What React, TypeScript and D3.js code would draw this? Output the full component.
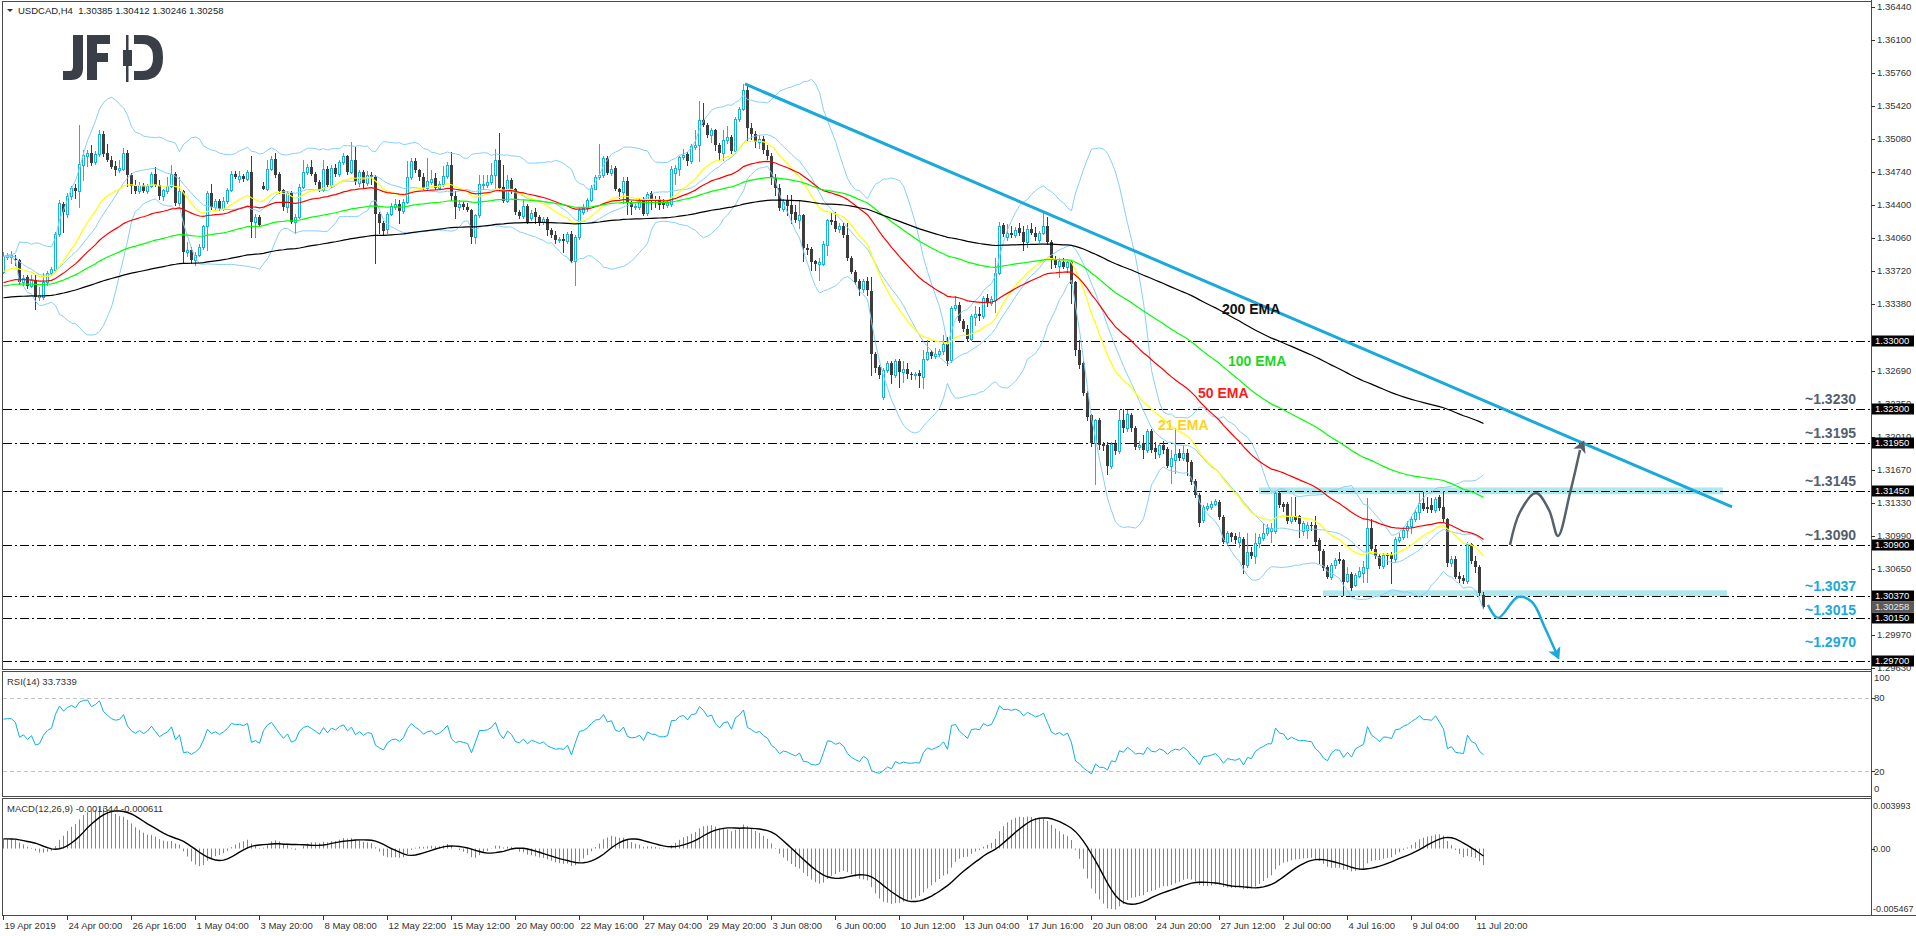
import React from "react";
import * as d3 from "d3";

// Prices in units of 0.0001 (13371 = 1.3371), one entry per H4 bar
const OPEN = [
13371,13386,13386,13384,13383,13361,13366,13357,13363,13345,
13345,13361,13370,13373,13410,13441,13431,13449,13458,13454,
13481,13491,13494,13484,13493,13513,13494,13486,13480,13476,
13477,13494,13471,13461,13454,13461,13454,13460,13472,13461,
13449,13454,13460,13472,13442,13454,13392,13394,13383,13389,
13397,13418,13452,13438,13444,13436,13444,13455,13472,13467,
13470,13467,13474,13423,13428,13460,13456,13477,13487,13472,
13455,13438,13452,13422,13428,13459,13474,13479,13472,13464,
13455,13477,13461,13478,13472,13484,13490,13474,13486,13463,
13474,13463,13471,13469,13431,13421,13415,13431,13438,13441,
13434,13443,13469,13485,13476,13469,13458,13464,13468,13458,
13462,13470,13481,13449,13438,13441,13438,13435,13407,13430,
13461,13461,13464,13471,13486,13459,13444,13466,13456,13433,
13429,13439,13427,13433,13428,13422,13426,13414,13409,13404,
13405,13403,13410,13382,13407,13433,13437,13445,13457,13469,
13471,13488,13473,13478,13456,13453,13465,13442,13438,13438,
13446,13432,13452,13446,13446,13443,13440,13441,13473,13477,
13489,13493,13485,13500,13502,13528,13522,13512,13517,13502,
13494,13507,13510,13496,13529,13539,13559,13519,13513,13505,
13508,13497,13490,13468,13458,13436,13445,13440,13433,13425,
13430,13396,13395,13382,13379,13379,13399,13425,13424,13415,
13418,13409,13385,13371,13362,13353,13362,13351,13287,13273,
13242,13270,13277,13265,13279,13268,13271,13266,13265,13267,
13263,13281,13289,13284,13286,13290,13297,13280,13334,13337,
13321,13312,13302,13325,13328,13326,13344,13339,13342,13370,
13419,13407,13411,13409,13416,13412,13402,13415,13411,13404,
13411,13418,13402,13383,13377,13381,13376,13381,13361,13291,
13277,13246,13224,13195,13219,13194,13193,13171,13194,13187,
13218,13210,13224,13210,13191,13195,13188,13207,13190,13183,
13193,13189,13171,13177,13184,13179,13185,13175,13156,13141,
13115,13128,13129,13132,13134,13119,13093,13102,13099,13093,
13096,13069,13083,13078,13092,13097,13102,13104,13104,13143,
13132,13132,13114,13120,13120,13104,13105,13110,13110,13095,
13084,13067,13057,13069,13075,13074,13053,13060,13049,13058,
13061,13066,13107,13086,13078,13068,13079,13079,13075,13095,
13098,13105,13109,13116,13124,13133,13129,13131,13126,13139,
13129,13117,13071,13075,13058,13056,13053,13091,13073,13067,
13038.5];

const HIGH = [
13392,13391,13393,13388,13384,13368,13368,13368,13368,13356,
13370,13372,13376,13412,13445,13443,13452,13460,13462,13522,
13497,13497,13502,13496,13517,13516,13503,13490,13485,13486,
13499,13497,13473,13466,13464,13463,13462,13474,13479,13466,
13457,13469,13481,13474,13469,13455,13402,13397,13392,13400,
13419,13454,13462,13446,13446,13448,13458,13475,13475,13475,
13472,13476,13490,13431,13430,13464,13486,13490,13494,13474,
13457,13454,13454,13431,13462,13486,13482,13486,13474,13466,
13486,13480,13481,13482,13486,13494,13492,13505,13500,13476,
13476,13475,13474,13471,13433,13424,13433,13442,13446,13445,
13446,13485,13488,13488,13477,13473,13488,13476,13473,13465,
13480,13484,13495,13454,13445,13443,13442,13436,13431,13471,
13471,13471,13483,13498,13514,13481,13471,13468,13458,13435,
13446,13441,13435,13437,13430,13428,13428,13416,13413,13407,
13410,13412,13413,13409,13438,13441,13447,13461,13471,13503,
13490,13490,13481,13480,13458,13469,13469,13444,13441,13446,
13448,13453,13454,13449,13449,13446,13445,13480,13481,13491,
13498,13495,13503,13517,13547,13545,13524,13519,13518,13504,
13517,13521,13512,13531,13541,13565,13565,13525,13516,13512,
13511,13502,13494,13472,13462,13446,13450,13450,13440,13445,
13431,13400,13397,13383,13385,13403,13426,13432,13433,13421,
13421,13421,13387,13373,13364,13364,13366,13366,13289,13275,
13272,13279,13279,13281,13281,13279,13277,13268,13268,13270,
13291,13301,13291,13293,13292,13306,13304,13336,13346,13340,
13323,13316,13328,13336,13335,13346,13348,13346,13385,13423,
13421,13420,13418,13417,13421,13418,13419,13421,13417,13413,
13433,13428,13404,13387,13385,13385,13383,13382,13362,13301,
13279,13248,13225,13220,13221,13196,13196,13196,13198,13229,
13230,13229,13226,13212,13197,13203,13209,13209,13196,13195,
13197,13191,13188,13210,13189,13193,13189,13177,13158,13143,
13131,13133,13135,13137,13136,13121,13104,13103,13102,13103,
13098,13102,13088,13102,13101,13112,13111,13112,13145,13145,
13134,13134,13139,13139,13121,13114,13113,13113,13120,13097,
13086,13069,13071,13076,13082,13075,13067,13062,13061,13067,
13073,13138,13117,13089,13080,13081,13081,13083,13098,13102,
13108,13114,13120,13127,13143,13144,13139,13138,13139,13141,
13145,13118,13078,13078,13062,13059,13093,13092,13078,13069,
13041.2];

const LOW = [
13370,13384,13380,13378,13359,13358,13355,13356,13333,13342,
13343,13358,13368,13372,13408,13412,13428,13446,13447,13438,
13466,13480,13481,13482,13491,13491,13485,13478,13471,13474,
13476,13460,13452,13452,13452,13453,13452,13459,13460,13446,
13445,13452,13459,13440,13440,13381,13387,13380,13378,13387,
13395,13394,13436,13435,13435,13435,13442,13454,13468,13464,
13465,13466,13407,13407,13418,13456,13455,13476,13469,13452,
13435,13433,13421,13411,13427,13458,13472,13471,13462,13454,
13454,13459,13459,13470,13470,13482,13472,13473,13462,13460,
13458,13461,13462,13380,13411,13409,13411,13430,13436,13421,
13432,13442,13467,13474,13466,13457,13457,13462,13457,13457,
13460,13468,13445,13427,13435,13436,13434,13401,13401,13428,
13457,13459,13462,13457,13457,13443,13443,13452,13431,13427,
13427,13421,13425,13421,13419,13420,13409,13407,13401,13402,
13392,13401,13381,13358,13405,13431,13434,13444,13456,13467,
13469,13472,13471,13455,13447,13442,13431,13431,13436,13436,
13430,13430,13436,13438,13436,13437,13438,13439,13462,13471,
13487,13481,13483,13498,13485,13521,13510,13505,13497,13486,
13486,13504,13494,13494,13527,13538,13507,13508,13500,13499,
13494,13487,13462,13450,13435,13434,13430,13421,13422,13416,
13382,13390,13373,13373,13363,13378,13388,13420,13413,13412,
13407,13383,13370,13359,13347,13350,13347,13265,13268,13262,
13240,13268,13257,13263,13253,13258,13262,13261,13261,13253,
13251,13280,13282,13282,13284,13287,13275,13278,13332,13319,
13310,13300,13301,13316,13322,13324,13336,13337,13330,13369,
13408,13404,13407,13407,13409,13394,13397,13410,13404,13402,
13410,13400,13375,13376,13366,13375,13371,13339,13285,13272,
13244,13219,13192,13153,13189,13188,13163,13169,13183,13185,
13206,13207,13207,13189,13189,13179,13186,13186,13179,13180,
13185,13170,13154,13164,13177,13177,13162,13153,13139,13109,
13113,13126,13127,13131,13117,13092,13091,13094,13092,13088,
13061,13067,13076,13071,13088,13095,13100,13093,13102,13129,
13125,13112,13112,13114,13098,13100,13097,13105,13091,13071,
13064,13056,13055,13066,13071,13038,13052,13043,13047,13057,
13052,13052,13085,13076,13066,13066,13070,13051,13072,13093,
13096,13098,13102,13114,13117,13126,13124,13124,13124,13126,
13114,13068,13068,13056,13052,13051,13051,13071,13062,13038,
13024.6];

const CLOSE = [
13387,13388,13388,13383,13361,13365,13357,13363,13345,13347,
13361,13370,13374,13410,13442,13433,13449,13458,13454,13482,
13492,13494,13483,13493,13513,13493,13486,13479,13476,13478,
13494,13471,13460,13454,13461,13454,13460,13472,13461,13449,
13455,13460,13472,13442,13454,13392,13394,13383,13389,13397,
13418,13452,13438,13444,13436,13444,13455,13472,13469,13470,
13467,13474,13423,13428,13419,13456,13477,13487,13471,13454,
13438,13452,13422,13428,13459,13474,13479,13472,13464,13455,
13477,13461,13478,13472,13484,13490,13474,13486,13464,13474,
13463,13471,13469,13431,13421,13413,13431,13439,13441,13434,
13443,13469,13485,13476,13469,13458,13465,13467,13458,13462,
13470,13481,13449,13438,13441,13438,13435,13407,13430,13462,
13462,13464,13471,13486,13458,13444,13466,13456,13433,13429,
13439,13423,13432,13428,13422,13426,13414,13409,13404,13405,
13403,13410,13382,13407,13435,13437,13445,13458,13469,13471,
13488,13473,13477,13456,13453,13465,13442,13438,13439,13444,
13431,13451,13446,13445,13440,13440,13442,13477,13478,13489,
13492,13485,13501,13502,13528,13522,13512,13517,13502,13494,
13507,13510,13496,13529,13539,13559,13519,13513,13505,13508,
13497,13490,13468,13458,13437,13443,13439,13431,13425,13430,
13396,13394,13381,13379,13381,13400,13425,13423,13415,13418,
13409,13385,13371,13361,13353,13362,13352,13287,13272,13265,
13270,13277,13265,13279,13268,13271,13266,13265,13266,13264,
13281,13289,13284,13287,13290,13297,13279,13334,13337,13321,
13312,13302,13326,13328,13326,13344,13339,13343,13370,13418,
13410,13411,13409,13414,13411,13402,13415,13411,13407,13411,
13418,13402,13383,13378,13382,13376,13381,13359,13291,13275,
13246,13222,13195,13219,13193,13192,13171,13194,13187,13218,
13210,13225,13210,13191,13193,13188,13207,13188,13186,13193,
13188,13171,13179,13183,13179,13185,13175,13155,13141,13112,
13129,13130,13132,13135,13119,13093,13102,13098,13095,13098,
13069,13083,13078,13092,13098,13102,13107,13107,13143,13131,
13129,13114,13120,13115,13111,13112,13110,13109,13093,13084,
13066,13057,13069,13074,13073,13052,13060,13045,13059,13063,
13067,13107,13086,13078,13068,13079,13078,13075,13096,13098,
13105,13109,13117,13124,13133,13127,13127,13126,13137,13128,
13117,13071,13075,13057,13055,13053,13091,13073,13067,13040,
13025.8];

const UNIT = 10000;

const TIME_LABELS = [
  "19 Apr 2019", "24 Apr 00:00", "26 Apr 16:00", "1 May 04:00", "3 May 20:00", "8 May 08:00",
  "12 May 22:00", "15 May 12:00", "20 May 00:00", "22 May 16:00", "27 May 04:00", "29 May 20:00",
  "3 Jun 08:00", "6 Jun 00:00", "10 Jun 12:00", "13 Jun 04:00", "17 Jun 16:00", "20 Jun 08:00",
  "24 Jun 20:00", "27 Jun 12:00", "2 Jul 00:00", "4 Jul 16:00", "9 Jul 04:00", "11 Jul 20:00",
];
const BARS_PER_LABEL = 16;

const PRICE_TICKS = [
  "1.36440", "1.36100", "1.35760", "1.35420", "1.35080", "1.34740", "1.34400", "1.34060",
  "1.33720", "1.33380", "1.32690", "1.32350", "1.32010", "1.31670", "1.31330",
  "1.30990", "1.30650", "1.29970", "1.29630",
];

const LEVELS = [1.33, 1.323, 1.3195, 1.3145, 1.309, 1.3037, 1.3015, 1.297];
const LEVEL_TEXT = ["", "~1.3230", "~1.3195", "~1.3145", "~1.3090", "~1.3037", "~1.3015", "~1.2970"];
const LEVEL_TEXT_HIGHLIGHT = [false, false, false, false, false, true, true, true];
const LAST_PRICE = 1.30258;

const EMA_PERIODS = [21, 50, 100, 200];
const EMA_SEEDS = [13370, 13359, 13356, 13344];
const EMA_LABELS = ["21 EMA", "50 EMA", "100 EMA", "200 EMA"];
const EMA_LABEL_AT: [number, number][] = [[288.75, 1.32082], [298.75, 1.32412], [306.25, 1.32741], [304.75, 1.33277]];
const BB_PERIOD = 20;
const RSI_PERIOD = 14;
const RSI_SEED = [5, 3];
const MACD_SEEDS = [13380, 13372];
const MACD_SIGNAL = 9;

const TREND: [number, number][] = [[185.5, 1.35647], [432.25, 1.31289]];
const ZONES = [
  { from: 314, to: 430, lo: 1.3142, hi: 1.3149 },
  { from: 330, to: 431, lo: 1.3037, hi: 1.3043 },
];
const UP_PATH: [number, number][] = [
  [376.75, 1.30897], [379.25, 1.31237], [383.25, 1.31433], [386.5, 1.31258],
  [388.75, 1.3099], [391.75, 1.31433], [394.25, 1.31876], [395, 1.31948],
];
const DOWN_PATH: [number, number][] = [
  [371.25, 1.30279], [373.75, 1.30145], [378.75, 1.30361], [382.25, 1.3031],
  [385.5, 1.30042], [388.75, 1.29743],
];

const FONT = "'Liberation Sans', Arial, sans-serif";
const BULL = "#16b2e2";
const BEAR = "#3d3d3d";
const CYAN = "#1aa9db";
const EMA_COLORS = ["#ffff00", "#ff0000", "#00ff00", "#000000"];
const EMA_TEXT_COLORS = ["#ffd21c", "#ff1a1a", "#1fd61f", "#111111"];

function ema(vals: number[], period: number, seed: number) {
  const k = 2 / (period + 1);
  let prev = seed;
  return vals.map((v) => (prev = prev + k * (v - prev)));
}

export default function App() {
  React.useEffect(() => {
    document.body.style.margin = "0";
    document.body.style.overflow = "hidden";
  }, []);

  const x = d3.scaleLinear().domain([0, 100]).range([3, 403]);
  const y = d3.scaleLinear().domain([1.2963, 1.3644]).range([668, 7]);
  const yR = d3.scaleLinear().domain([0, 100]).range([796, 673]);
  const yM = d3.scaleLinear().domain([-0.005467, 0.003993]).range([915, 800]);

  const closes = CLOSE.map((v) => v / UNIT);
  const emas = EMA_PERIODS.map((p, k) => ema(closes, p, EMA_SEEDS[k] / UNIT));
  const bb = closes.map((_, i) => {
    const w = closes.slice(Math.max(0, i - BB_PERIOD + 1), i + 1);
    const m = d3.mean(w)!;
    const sd = Math.sqrt(d3.mean(w, (v) => (v - m) * (v - m))!);
    return { m, u: m + 2 * sd, l: m - 2 * sd };
  });
  let ag = RSI_SEED[0] / UNIT, al = RSI_SEED[1] / UNIT;
  const rsi = closes.map((c, i) => {
    if (i > 0) {
      const ch = c - closes[i - 1];
      ag = (ag * (RSI_PERIOD - 1) + Math.max(ch, 0)) / RSI_PERIOD;
      al = (al * (RSI_PERIOD - 1) + Math.max(-ch, 0)) / RSI_PERIOD;
    }
    return al === 0 ? 100 : 100 - 100 / (1 + ag / al);
  });
  const e12 = ema(closes, 12, MACD_SEEDS[0] / UNIT);
  const e26 = ema(closes, 26, MACD_SEEDS[1] / UNIT);
  const macd = e12.map((v, i) => v - e26[i]);
  const signal = macd.map((_, i) => d3.mean(macd.slice(Math.max(0, i - MACD_SIGNAL + 1), i + 1))!);

  const lineP = d3.line<number>().x((_, i) => x(i) + 0.5).y((d) => y(d));
  const lineR = d3.line<number>().x((_, i) => x(i) + 0.5).y((d) => yR(d));
  const lineM = d3.line<number>().x((_, i) => x(i) + 0.5).y((d) => yM(d));
  const curve = d3.line<[number, number]>().x((d) => x(d[0])).y((d) => y(d[1])).curve(d3.curveCatmullRom.alpha(0.5));

  const arrowHead = (pts: [number, number][], size: number, color: string) => {
    const a = pts[pts.length - 2], b = pts[pts.length - 1];
    const x1 = x(a[0]), y1 = y(a[1]), x2 = x(b[0]), y2 = y(b[1]);
    const ang = Math.atan2(y2 - y1, x2 - x1);
    const tip = [x2 + Math.cos(ang) * 3, y2 + Math.sin(ang) * 3];
    const back = [tip[0] - Math.cos(ang) * size, tip[1] - Math.sin(ang) * size];
    const px = -Math.sin(ang) * size * 0.55, py = Math.cos(ang) * size * 0.55;
    return <path d={`M${tip[0]},${tip[1]}L${back[0] + px},${back[1] + py}L${back[0] + Math.cos(ang) * 3},${back[1] + Math.sin(ang) * 3}L${back[0] - px},${back[1] - py}Z`} fill={color} />;
  };

  const candles = CLOSE.map((c, i) => {
    const o = OPEN[i], h = HIGH[i], l = LOW[i];
    const cx = Math.round(x(i));
    const yt = Math.round(y(Math.max(o, c) / UNIT));
    const yb = Math.round(y(Math.min(o, c) / UNIT));
    const yh = Math.round(y(h / UNIT));
    const yl = Math.round(y(l / UNIT));
    const bull = c > o;
    const col = bull ? BULL : BEAR;
    return (
      <g key={i}>
        <line x1={cx + 0.5} x2={cx + 0.5} y1={yh} y2={yl + 1} stroke={col} />
        {bull ? (
          <rect x={cx - 0.5} y={yt + 0.5} width={2} height={Math.max(yb - yt, 1)} fill="#fff" stroke={col} />
        ) : (
          <rect x={cx - 1} y={yt} width={3} height={Math.max(yb - yt, 1)} fill={col} />
        )}
      </g>
    );
  });

  const axisText = { fontFamily: FONT, fontSize: 9.5, fill: "#333" } as const;
  const AX = 1871;

  return (
    <svg width={1916} height={936} style={{ position: "absolute", left: 0, top: 0, background: "#fff" }}>
      <defs>
        <clipPath id="cMain"><rect x={3} y={2} width={AX - 3} height={666} /></clipPath>
        <clipPath id="cRsi"><rect x={3} y={672} width={AX - 3} height={124} /></clipPath>
        <clipPath id="cMacd"><rect x={3} y={799} width={AX - 3} height={116} /></clipPath>
      </defs>

      {/* panel frames */}
      <g fill="none" stroke="#4a4a4a" shapeRendering="crispEdges">
        <rect x={2.5} y={1.5} width={AX - 2.5} height={667.5} />
        <rect x={2.5} y={671.5} width={AX - 2.5} height={125} />
        <rect x={2.5} y={798.5} width={AX - 2.5} height={116.5} />
        <line x1={AX + 0.5} x2={AX + 0.5} y1={0} y2={916} />
        <line x1={2} x2={1916} y1={915.5} y2={915.5} />
      </g>

      {/* header */}
      <path d="M7,9 L13,9 L10,12 Z" fill="#333" />
      <text x={18} y={14} style={{ whiteSpace: "pre" }} {...axisText} fill="#222">{"USDCAD,H4  1.30385 1.30412 1.30246 1.30258"}</text>

      {/* JFD logo */}
      <g fill="#3a3f47">
        <path d="M73,35 H83 V68 Q83,80 71,80 H63 V71 H70 Q73,71 73,66 Z" />
        <path d="M87,35 H110 V44 H97 V53 H108 V62 H97 V80 H87 Z" />
        <rect x={126} y={35} width={2.5} height={47} />
        <rect x={123} y={50} width={9} height={16} />
        <path d="M134,35 H143 Q163,35 163,57.5 Q163,80 143,80 H134 V71 H142 Q153,71 153,57.5 Q153,44 142,44 H134 Z" />
      </g>

      {/* zones, levels, candles, indicators */}
      <g clipPath="url(#cMain)">
        {ZONES.map((z, k) => (
          <rect key={k} x={x(z.from)} width={x(z.to) - x(z.from)} y={y(z.hi)} height={y(z.lo) - y(z.hi)} fill="#aee7ec" />
        ))}
        {LEVELS.map((lv, k) => (
          <line key={k} x1={3} x2={AX} y1={Math.round(y(lv)) + 0.5} y2={Math.round(y(lv)) + 0.5} stroke="#000" strokeDasharray="9 3 2 3" shapeRendering="crispEdges" />
        ))}
        {candles}
        <g fill="none" stroke="#87cefa" strokeWidth={1}>
          <path d={lineP(bb.map((b) => b.u))!} />
          <path d={lineP(bb.map((b) => b.m))!} />
          <path d={lineP(bb.map((b) => b.l))!} />
        </g>
        {emas.map((e, k) => (
          <path key={k} d={lineP(e)!} fill="none" stroke={EMA_COLORS[k]} strokeWidth={1.2} />
        ))}
        <line x1={x(TREND[0][0])} y1={y(TREND[0][1])} x2={x(TREND[1][0])} y2={y(TREND[1][1])} stroke={CYAN} strokeWidth={3} />
        <path d={curve(UP_PATH.slice(0, -1))!} fill="none" stroke="#56616b" strokeWidth={2.5} />
        {arrowHead(UP_PATH, 12, "#56616b")}
        <path d={curve(DOWN_PATH)!} fill="none" stroke={CYAN} strokeWidth={2.5} />
        {arrowHead(DOWN_PATH, 12, CYAN)}
      </g>

      {/* EMA labels */}
      {EMA_LABELS.map((t, k) => (
        <text key={k} x={x(EMA_LABEL_AT[k][0])} y={y(EMA_LABEL_AT[k][1])} fontFamily={FONT} fontSize={14} fontWeight={700} fill={EMA_TEXT_COLORS[k]}>{t}</text>
      ))}

      {/* level labels */}
      {LEVELS.map((lv, k) =>
        LEVEL_TEXT[k] ? (
          <text key={k} x={1805} y={y(lv) - (k === 7 ? 14 : k === 6 ? 3 : 5)} fontFamily={FONT} fontSize={14} fontWeight={700} fill={LEVEL_TEXT_HIGHLIGHT[k] ? CYAN : "#55606b"}>{LEVEL_TEXT[k]}</text>
        ) : null
      )}

      {/* price axis */}
      {PRICE_TICKS.map((t) => {
        const yy = Math.round(y(+t));
        return (
          <g key={t}>
            <line x1={AX} x2={AX + 4} y1={yy + 0.5} y2={yy + 0.5} stroke="#333" />
            <text x={AX + 6} y={yy} dy="0.35em" {...axisText}>{t}</text>
          </g>
        );
      })}
      {LEVELS.map((lv) => {
        const yy = Math.round(y(lv));
        return (
          <g key={lv}>
            <rect x={AX + 1} y={yy - 5.5} width={42} height={11} fill="#000" />
            <text x={AX + 4} y={yy} dy="0.35em" {...axisText} fill="#fff">{lv.toFixed(5)}</text>
          </g>
        );
      })}
      <rect x={AX + 1} y={Math.round(y(LAST_PRICE)) - 5.5} width={42} height={11} fill="#5a5a5a" />
      <text x={AX + 4} y={Math.round(y(LAST_PRICE))} dy="0.35em" {...axisText} fill="#e8e8e8">{LAST_PRICE.toFixed(5)}</text>

      {/* RSI panel */}
      <g clipPath="url(#cRsi)">
        {[80, 20].map((v) => (
          <line key={v} x1={3} x2={AX} y1={Math.round(yR(v)) + 0.5} y2={Math.round(yR(v)) + 0.5} stroke="#c4c4c4" strokeDasharray="4 3" />
        ))}
        <path d={lineR(rsi)!} fill="none" stroke="#10aede" strokeWidth={1} />
      </g>
      <text x={7} y={685} {...axisText}>RSI(14) 33.7339</text>
      {[100, 80, 20, 0].map((v) => {
        const yy = Math.max(678, Math.min(789, yR(v)));
        return (
          <g key={v}>
            {(v === 80 || v === 20) && <line x1={AX} x2={AX + 4} y1={Math.round(yy) + 0.5} y2={Math.round(yy) + 0.5} stroke="#333" />}
            <text x={AX + 3} y={yy} dy="0.35em" {...axisText}>{v}</text>
          </g>
        );
      })}

      {/* MACD panel */}
      <g clipPath="url(#cMacd)">
        {macd.map((v, i) => (
          <line key={i} x1={Math.round(x(i)) + 0.5} x2={Math.round(x(i)) + 0.5} y1={yM(0)} y2={yM(v)} stroke="#10aede" strokeWidth={1} />
        ))}
        <path d={lineM(signal)!} fill="none" stroke="#000" strokeWidth={1.4} />
      </g>
      <text x={7} y={812} {...axisText}>MACD(12,26,9) -0.001344 -0.000611</text>
      {[0.003993, 0, -0.005467].map((v, k) => {
        const yy = Math.max(806, Math.min(909, yM(v)));
        const lbl = ["0.003993", "0.00", "-0.005467"][k];
        return (
          <g key={lbl}>
            {v === 0 && <line x1={AX} x2={AX + 4} y1={Math.round(yy) + 0.5} y2={Math.round(yy) + 0.5} stroke="#333" />}
            <text x={AX + 2} y={yy} dy="0.35em" {...axisText} fontSize={9}>{lbl}</text>
          </g>
        );
      })}

      {/* time axis */}
      {TIME_LABELS.map((t, k) => {
        const tx = Math.round(x(k * BARS_PER_LABEL)) + 0.5;
        return (
          <g key={t}>
            <line x1={tx} x2={tx} y1={915} y2={920} stroke="#333" />
            <text x={tx + 1} y={929} {...axisText}>{t}</text>
          </g>
        );
      })}
    </svg>
  );
}
